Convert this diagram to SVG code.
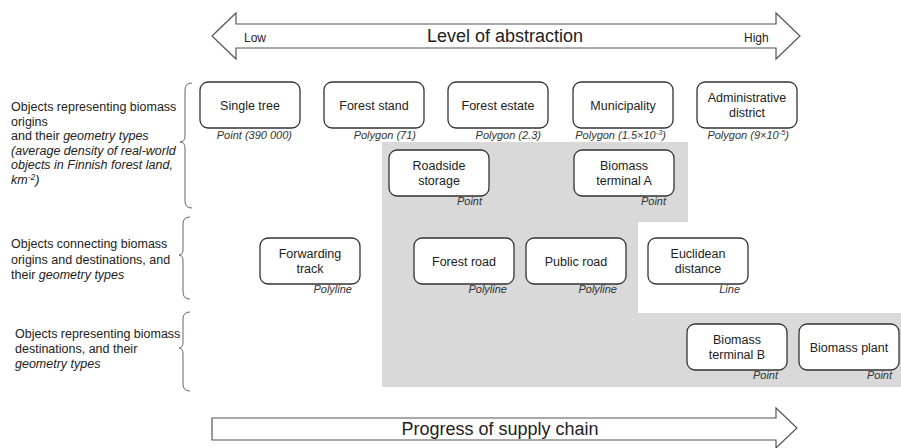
<svg xmlns="http://www.w3.org/2000/svg" width="901" height="448" viewBox="0 0 901 448">
<style>
text{font-family:"Liberation Sans",Arial,sans-serif;fill:#222}
.box{fill:#fff;stroke:#333;stroke-width:1.3}
.nt{font-size:12.5px;text-anchor:middle}
.sub{font-size:11px;font-style:italic;text-anchor:end;fill:#333}
.side{font-size:12.5px}
.it{font-style:italic}
.arrow{fill:#fff;stroke:#555;stroke-width:1.2}
.brace{fill:none;stroke:#666;stroke-width:1}
.big{font-size:18px;text-anchor:middle}
.small{font-size:12px}
</style>
<rect width="901" height="448" fill="#fff"/>
<path d="M382,142 L688,142 L688,222 L638,222 L638,313 L901,313 L901,387 L382,387 Z" fill="#d9d9d9"/>

<g id="arrow-abstraction">
<path class="arrow" d="M212,36 L236,13 L236,24 L776,24 L776,13 L800,36 L776,59 L776,48 L236,48 L236,59 Z"/>
<text class="small" x="244" y="42">Low</text>
<text class="big" x="505" y="42">Level of abstraction</text>
<text class="small" x="744" y="42">High</text>
</g>
<g id="arrow-supply">
<path class="arrow" d="M212,418 L776,418 L776,408 L797,428 L776,448 L776,440 L212,440 Z"/>
<text class="big" x="500" y="435">Progress of supply chain</text>
</g>

<g id="braces">
<path class="brace" d="M192,83 Q185,83 185,90 L185,136 Q185,142 180,142 Q185,142 185,148 L185,201 Q185,208 192,208"/>
<path class="brace" d="M190,217 Q183,217 183,224 L183,249 Q183,255 179,255 Q183,255 183,261 L183,292 Q183,299 190,299"/>
<path class="brace" d="M190,312 Q183,312 183,319 L183,342 Q183,348 179,348 Q183,348 183,354 L183,384 Q183,391 190,391"/>
</g>

<g id="label-origins" class="side">
<text x="11" y="111">Objects representing biomass</text>
<text x="11" y="125.5">origins</text>
<text x="11" y="140">and their <tspan class="it">geometry types</tspan></text>
<text x="11" y="154.5" class="it">(average density of real-world</text>
<text x="11" y="169" class="it">objects in Finnish forest land,</text>
<text x="11" y="183.5" class="it">km<tspan dy="-4" font-size="8.5">-2</tspan><tspan dy="4">)</tspan></text>
</g>
<g id="label-connecting" class="side">
<text x="11" y="248">Objects connecting biomass</text>
<text x="11" y="263.5">origins and destinations, and</text>
<text x="11" y="279">their <tspan class="it">geometry types</tspan></text>
</g>
<g id="label-destinations" class="side">
<text x="15" y="338">Objects representing biomass</text>
<text x="15" y="353">destinations, and their</text>
<text x="15" y="368" class="it">geometry types</text>
</g>

<g id="connectors"></g>

<g id="single-tree">
<rect class="box" x="200" y="82" width="100" height="46" rx="8"/>
<text class="nt" x="250" y="109.5">Single tree</text>
<text class="sub" x="292" y="139">Point (390 000)</text>
</g>
<g id="forest-stand">
<rect class="box" x="324" y="82" width="100" height="46" rx="8"/>
<text class="nt" x="374" y="109.5">Forest stand</text>
<text class="sub" x="416" y="139">Polygon (71)</text>
</g>
<g id="forest-estate">
<rect class="box" x="448" y="82" width="100" height="46" rx="8"/>
<text class="nt" x="498" y="109.5">Forest estate</text>
<text class="sub" x="541" y="139">Polygon (2.3)</text>
</g>
<g id="municipality">
<rect class="box" x="573" y="82" width="100" height="46" rx="8"/>
<text class="nt" x="623" y="109.5">Municipality</text>
<text class="sub" x="666" y="139">Polygon (1.5×10<tspan dy="-4" font-size="7.5">-3</tspan><tspan dy="4">)</tspan></text>
</g>
<g id="administrative-district">
<rect class="box" x="697" y="82" width="100" height="46" rx="8"/>
<text class="nt" x="747" y="101.5">Administrative</text>
<text class="nt" x="747" y="116.5">district</text>
<text class="sub" x="789" y="139">Polygon (9×10<tspan dy="-4" font-size="7.5">-5</tspan><tspan dy="4">)</tspan></text>
</g>
<g id="roadside-storage">
<rect class="box" x="389" y="150" width="100" height="46" rx="8"/>
<text class="nt" x="439" y="170">Roadside</text>
<text class="nt" x="439" y="185">storage</text>
<text class="sub" x="482" y="205">Point</text>
</g>
<g id="biomass-terminal-a">
<rect class="box" x="574" y="150" width="100" height="46" rx="8"/>
<text class="nt" x="624" y="170">Biomass</text>
<text class="nt" x="624" y="185">terminal A</text>
<text class="sub" x="666" y="205">Point</text>
</g>
<g id="forwarding-track">
<rect class="box" x="260" y="238" width="100" height="46" rx="8"/>
<text class="nt" x="310" y="258">Forwarding</text>
<text class="nt" x="310" y="273">track</text>
<text class="sub" x="352" y="293">Polyline</text>
</g>
<g id="forest-road">
<rect class="box" x="414" y="238" width="100" height="46" rx="8"/>
<text class="nt" x="464" y="265.5">Forest road</text>
<text class="sub" x="507" y="293">Polyline</text>
</g>
<g id="public-road">
<rect class="box" x="526" y="238" width="100" height="46" rx="8"/>
<text class="nt" x="576" y="265.5">Public road</text>
<text class="sub" x="617" y="293">Polyline</text>
</g>
<g id="euclidean-distance">
<rect class="box" x="648" y="238" width="100" height="46" rx="8"/>
<text class="nt" x="698" y="258">Euclidean</text>
<text class="nt" x="698" y="273">distance</text>
<text class="sub" x="740" y="293">Line</text>
</g>
<g id="biomass-terminal-b">
<rect class="box" x="687" y="324" width="100" height="46" rx="8"/>
<text class="nt" x="737" y="344">Biomass</text>
<text class="nt" x="737" y="359">terminal B</text>
<text class="sub" x="778" y="379">Point</text>
</g>
<g id="biomass-plant">
<rect class="box" x="799" y="324" width="100" height="46" rx="8"/>
<text class="nt" x="849" y="351.5">Biomass plant</text>
<text class="sub" x="892" y="379">Point</text>
</g>
</svg>
